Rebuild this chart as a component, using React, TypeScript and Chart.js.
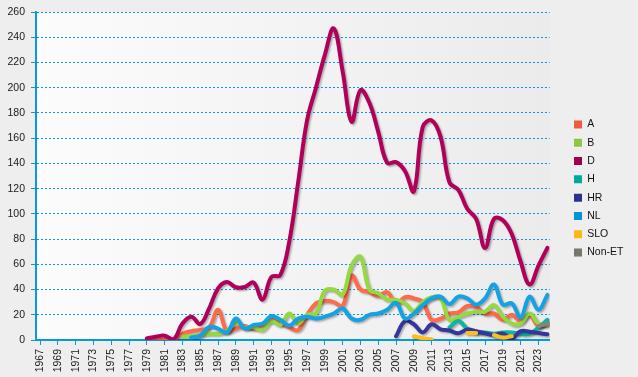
import { useEffect, useRef } from 'react';
import { Chart, registerables } from 'chart.js';

Chart.register(...registerables);

// Years 1979 .. 2024
const years = [
  1979, 1980, 1981, 1982, 1983, 1984, 1985, 1986, 1987, 1988,
  1989, 1990, 1991, 1992, 1993, 1994, 1995, 1996, 1997, 1998,
  1999, 2000, 2001, 2002, 2003, 2004, 2005, 2006, 2007, 2008,
  2009, 2010, 2011, 2012, 2013, 2014, 2015, 2016, 2017, 2018,
  2019, 2020, 2021, 2022, 2023, 2024,
];

const tickYears = [
  1967, 1969, 1971, 1973, 1975, 1977, 1979, 1981, 1983, 1985,
  1987, 1989, 1991, 1993, 1995, 1997, 1999, 2001, 2003, 2005,
  2007, 2009, 2011, 2013, 2015, 2017, 2019, 2021, 2023,
];

const yTicks = [0, 20, 40, 60, 80, 100, 120, 140, 160, 180, 200, 220, 240, 260];

const N = null;

const seriesA = [
  0, 0, 0, 0.5, 5, 7, 8, 10, 24, 7,
  9, 11, 9, 12, 16, 13, 10, 8, 20, 29,
  31, 30, 27, 51, 40, 38, 35, 38, 29, 34,
  33, 30, 16, 17, 21, 22, 27, 26, 21, 21,
  16, 20, 15, 20, 11, 14,
];

const seriesB = [
  N, N, N, N, 2.6, 3, 4, 5, 5, 7,
  14, 10, 10, 8, 15, 12, 21, 13, 20, 21,
  39, 40, 36, 59, 66, 40, 37, 32, 32, 29,
  23, 30, 34, 33, 16, 18.5, 21, 22.5, 22.5, 27.7,
  18.5, 13, 13, 21, 13, 12,
];

const seriesD = [
  1.3, 2.6, 3.4, 0.5, 13, 18.5, 12.7, 25, 41, 46,
  41.8, 42, 45.5, 32, 50, 51.5, 78, 125, 174, 200,
  226, 247, 213, 173, 198, 188, 165, 140.5, 141, 134,
  118, 169, 174, 161, 125, 119, 104, 96, 73, 96,
  95, 84, 62, 44, 59, 73,
];

const seriesH = [
  N, N, N, N, N, N, N, N, N, N,
  N, N, N, N, N, N, N, N, N, N,
  N, N, N, N, N, N, N, N, N, N,
  N, N, N, N, 10, 15, 9, 6, 6, 5,
  6, 6, 5, 5, 10, 16,
];

const seriesHR = [
  N, N, N, N, N, N, N, N, N, N,
  N, N, N, N, N, N, N, N, N, N,
  N, N, N, N, N, N, N, N, 3, 15,
  12.5, 6, 12.5, 8.5, 7.5, 5.3, 8.3, 7, 5.3, 4,
  5, 1.3, 7, 6.6, 5.5, 4.5,
];

const seriesNL = [
  N, N, N, N, N, 2, 3.5, 10.5, 9, 6,
  17, 9, 12, 13, 19, 16, 11.5, 17, 18.5, 17,
  18.5, 21, 25, 17, 16, 20, 21, 24, 29.5, 17,
  21, 27.7, 33, 34.4, 28.5, 34.4, 33, 28, 33, 44,
  28, 29, 18, 34.4, 24, 35.7,
];

const seriesSLO = [
  N, N, N, N, N, N, N, N, N, N,
  N, N, N, N, N, N, N, N, N, N,
  N, N, N, N, N, N, N, N, N, N,
  3, 1.5, 0.5, N, N, N, 5.5, 5.5, N, 4,
  2, 3, N, N, N, N,
];

const seriesNonET = [
  N, N, N, N, N, N, N, N, N, N,
  N, N, N, N, N, N, N, N, N, N,
  N, N, N, N, N, N, N, N, N, N,
  N, N, N, N, N, N, N, N, N, N,
  N, N, N, N, 11, 13,
];

const seriesNames = ['A', 'B', 'D', 'H', 'HR', 'NL', 'SLO', 'Non-ET'];
const seriesValues = [seriesA, seriesB, seriesD, seriesH, seriesHR, seriesNL, seriesSLO, seriesNonET];
const lineColors = ['#ff6a4a', '#96d840', '#b0005a', '#10b3a6', '#33369a', '#14a2e4', '#ffbe1a', '#85857a'];
const legendColors = ['#f15a40', '#8dc63f', '#a0004e', '#00a99d', '#2e3192', '#0095da', '#fdb913', '#77776b'];

const FONT = "'Liberation Sans', Arial, sans-serif";
const BLUE = '#0b98d9';

export default function App() {
  const ref = useRef<HTMLCanvasElement>(null);

  useEffect(() => {
    document.body.style.margin = '0';
    const canvas = ref.current;
    if (!canvas) return;

    const bgPlugin = {
      id: 'bg',
      beforeDraw(chart: any) {
        const { ctx, chartArea } = chart;
        ctx.save();
        ctx.fillStyle = '#eeeeee';
        ctx.fillRect(0, 0, chart.width, chart.height);
        const g = ctx.createLinearGradient(chartArea.left, 0, chartArea.right, 0);
        g.addColorStop(0, '#fcfcfc');
        g.addColorStop(1, '#ebebeb');
        ctx.fillStyle = g;
        ctx.fillRect(chartArea.left, chartArea.top, chartArea.right - chartArea.left, chartArea.bottom - chartArea.top);
        ctx.restore();
      },
    };

    const shadowPlugin = {
      id: 'lineShadow',
      beforeDatasetDraw(chart: any) {
        const ctx = chart.ctx;
        ctx.save();
        ctx.shadowColor = 'rgba(0,0,0,0.3)';
        ctx.shadowBlur = 2;
        ctx.shadowOffsetX = 1.5;
        ctx.shadowOffsetY = 1.5;
      },
      afterDatasetDraw(chart: any) {
        chart.ctx.restore();
      },
    };

    const legendShift = {
      id: 'legendShift',
      afterLayout(chart: any) {
        const lg = chart.legend;
        if (!lg) return;
        const dx = 574 - 7.8 - lg.left;
        lg.left += dx;
        lg.right += dx;
      },
    };

    const datasets = seriesNames.map((name, i) => ({
      label: name,
      data: years.map((yr, k) => ({ x: yr, y: seriesValues[i][k] })),
      borderColor: lineColors[i],
      backgroundColor: legendColors[i],
      borderWidth: 4,
      pointRadius: 0,
      pointHoverRadius: 0,
      tension: 0.4,
      spanGaps: false,
      borderCapStyle: 'round' as const,
      borderJoinStyle: 'round' as const,
      fill: false,
      order: -i,
    }));

    const chart = new Chart(canvas, {
      type: 'line',
      data: { datasets },
      options: {
        animation: false,
        responsive: false,
        devicePixelRatio: 1,
        layout: { padding: { left: 0, top: 0, right: 21, bottom: 0 } },
        plugins: {
          tooltip: { enabled: false },
          legend: {
            position: 'right',
            align: 'center',
            labels: {
              boxWidth: 8,
              boxHeight: 8,
              padding: 7.8,
              color: '#111',
              font: { family: FONT, size: 10.5 },
              generateLabels: (c: any) =>
                c.data.datasets.map((ds: any, i: number) => ({
                  text: ds.label,
                  fillStyle: legendColors[i],
                  strokeStyle: legendColors[i],
                  lineWidth: 0,
                  hidden: false,
                  datasetIndex: i,
                  fontColor: '#111',
                })),
            },
          },
        },
        scales: {
          x: {
            type: 'linear',
            min: 1966.55,
            max: 2024.27,
            afterBuildTicks: (s: any) => {
              s.ticks = tickYears.map((v) => ({ value: v }));
            },
            afterFit: (s: any) => {
              s.height = 37;
            },
            ticks: {
              autoSkip: false,
              minRotation: 90,
              maxRotation: 90,
              padding: 4,
              color: '#1a1a1a',
              font: { family: FONT, size: 10.5 },
              callback: (v: any) => String(v),
            },
            grid: {
              drawOnChartArea: false,
              drawTicks: true,
              tickLength: 5,
              color: BLUE,
              tickColor: BLUE,
            },
            border: { display: true, color: BLUE, width: 2 },
          },
          y: {
            min: 0,
            max: 260,
            afterBuildTicks: (s: any) => {
              s.ticks = yTicks.map((v) => ({ value: v }));
            },
            afterFit: (s: any) => {
              s.width = 36;
              s.paddingTop = 12;
            },
            ticks: {
              padding: 6,
              color: '#1a1a1a',
              font: { family: FONT, size: 10.5 },
              callback: (v: any) => String(v),
            },
            grid: {
              drawTicks: true,
              tickLength: 5,
              color: BLUE,
              tickColor: BLUE,
              lineWidth: 1,
            },
            border: { display: true, color: BLUE, width: 2, dash: [2, 2] },
          },
        },
      },
      plugins: [bgPlugin, shadowPlugin, legendShift],
    } as any);

    return () => chart.destroy();
  }, []);

  return (
    <div style={{ width: 638, height: 377 }}>
      <canvas ref={ref} width={638} height={377} style={{ display: 'block' }} />
    </div>
  );
}
